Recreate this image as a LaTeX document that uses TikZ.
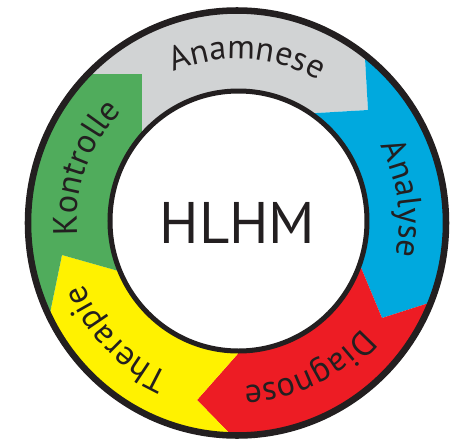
\documentclass[tikz,border=0pt]{standalone}
\usepackage{fontspec}
\setmainfont{PT Sans}
\usetikzlibrary{calc,decorations.text}
\definecolor{ink}{RGB}{35,31,32}
\definecolor{segGray}{RGB}{209,211,212}
\definecolor{segBlue}{RGB}{0,169,222}
\definecolor{segRed}{RGB}{237,28,36}
\definecolor{segYellow}{RGB}{255,242,0}
\definecolor{segGreen}{RGB}{80,172,92}
\newcommand\ringfont{\fontsize{25.5}{30}\selectfont}
\def\ringlabel(#1:#2)#3{\path[ringtext={#3}] ({#1+35}:#2) arc[start angle={#1+35}, end angle={#1-35}, radius=#2];}
\tikzset{
	ring/.style={draw=ink, line width=4.9pt},
	hub/.style={draw=ink, line width=3.75pt, fill=white},
	ringtext/.style={decorate, decoration={text along path, text={|\ringfont|#1}, text align=center, text color=ink}},
}

\begin{document}
\begin{tikzpicture}[x=0.75pt, y=0.75pt]
			%%%%% START %%%%%
			\useasboundingbox (-237, -222) rectangle (217, 222);
			
			% arrow tips and the two ends of each boundary
			\coordinate (tip1) at (131, 112);
			\coordinate (out1) at ($(tip1)!2!(128, 164)$);
			\coordinate (in1) at ($(tip1)!1.5!(80, 109)$);
			\coordinate (tip2) at (145, -96);
			\coordinate (out2) at ($(tip2)!2!(195, -80)$);
			\coordinate (in2) at ($(tip2)!1.5!(125, -48)$);
			\coordinate (tip3) at (-40, -178);
			\coordinate (out3) at ($(tip3)!2!(1, -220)$);
			\coordinate (in3) at ($(tip3)!1.5!(-2, -135)$);
			\coordinate (tip4) at (-175, -33);
			\coordinate (out4) at ($(tip4)!2!(-188, -96)$);
			\coordinate (in4) at ($(tip4)!1.5!(-122, -48)$);
			\coordinate (tip5) at (-95, 148);
			\coordinate (out5) at ($(tip5)!2!(-147, 148)$);
			\coordinate (in5) at ($(tip5)!1.5!(-95, 85)$);
			
			\begin{scope}
				\clip (0, -1) ellipse [x radius=209, y radius=212.5];
				\fill[segGray] (tip5) -- (out5) -- (130:400) -- (100:400) -- (70:400) -- (out1) -- (tip1) -- (in1) -- (0, 0) -- (in5) -- cycle;
				\fill[segBlue] (tip1) -- (out1) -- (50:400) -- (20:400) -- (-10:400) -- (out2) -- (tip2) -- (in2) -- (0, 0) -- (in1) -- cycle;
				\fill[segRed] (tip2) -- (out2) -- (-25:400) -- (-55:400) -- (-75:400) -- (out3) -- (tip3) -- (in3) -- (0, 0) -- (in2) -- cycle;
				\fill[segYellow] (tip3) -- (out3) -- (-95:400) -- (-120:400) -- (-135:400) -- (out4) -- (tip4) -- (in4) -- (0, 0) -- (in3) -- cycle;
				\fill[segGreen] (tip4) -- (out4) -- (205:400) -- (175:400) -- (150:400) -- (out5) -- (tip5) -- (in5) -- (0, 0) -- (in4) -- cycle;
			\end{scope}
			
			\draw[ring] (0, -1) ellipse [x radius=209, y radius=212.5];
			\draw[hub] (1.5, 1) ellipse [x radius=128.5, y radius=130];
			
			\node[font=\fontsize{44}{44}\selectfont, text=ink, inner sep=0pt] (hlhm) at (0.5, -0.5) {HLHM};
			
			\ringlabel(86.5:163){Anamnese}
			\ringlabel(8:162){Analyse}
			\ringlabel(-64:164){Diagnose}
			\ringlabel(-136:166){Therapie}
			\ringlabel(-199.5:160){Kontrolle}
			%%%%% END %%%%%
\end{tikzpicture}
\end{document}
